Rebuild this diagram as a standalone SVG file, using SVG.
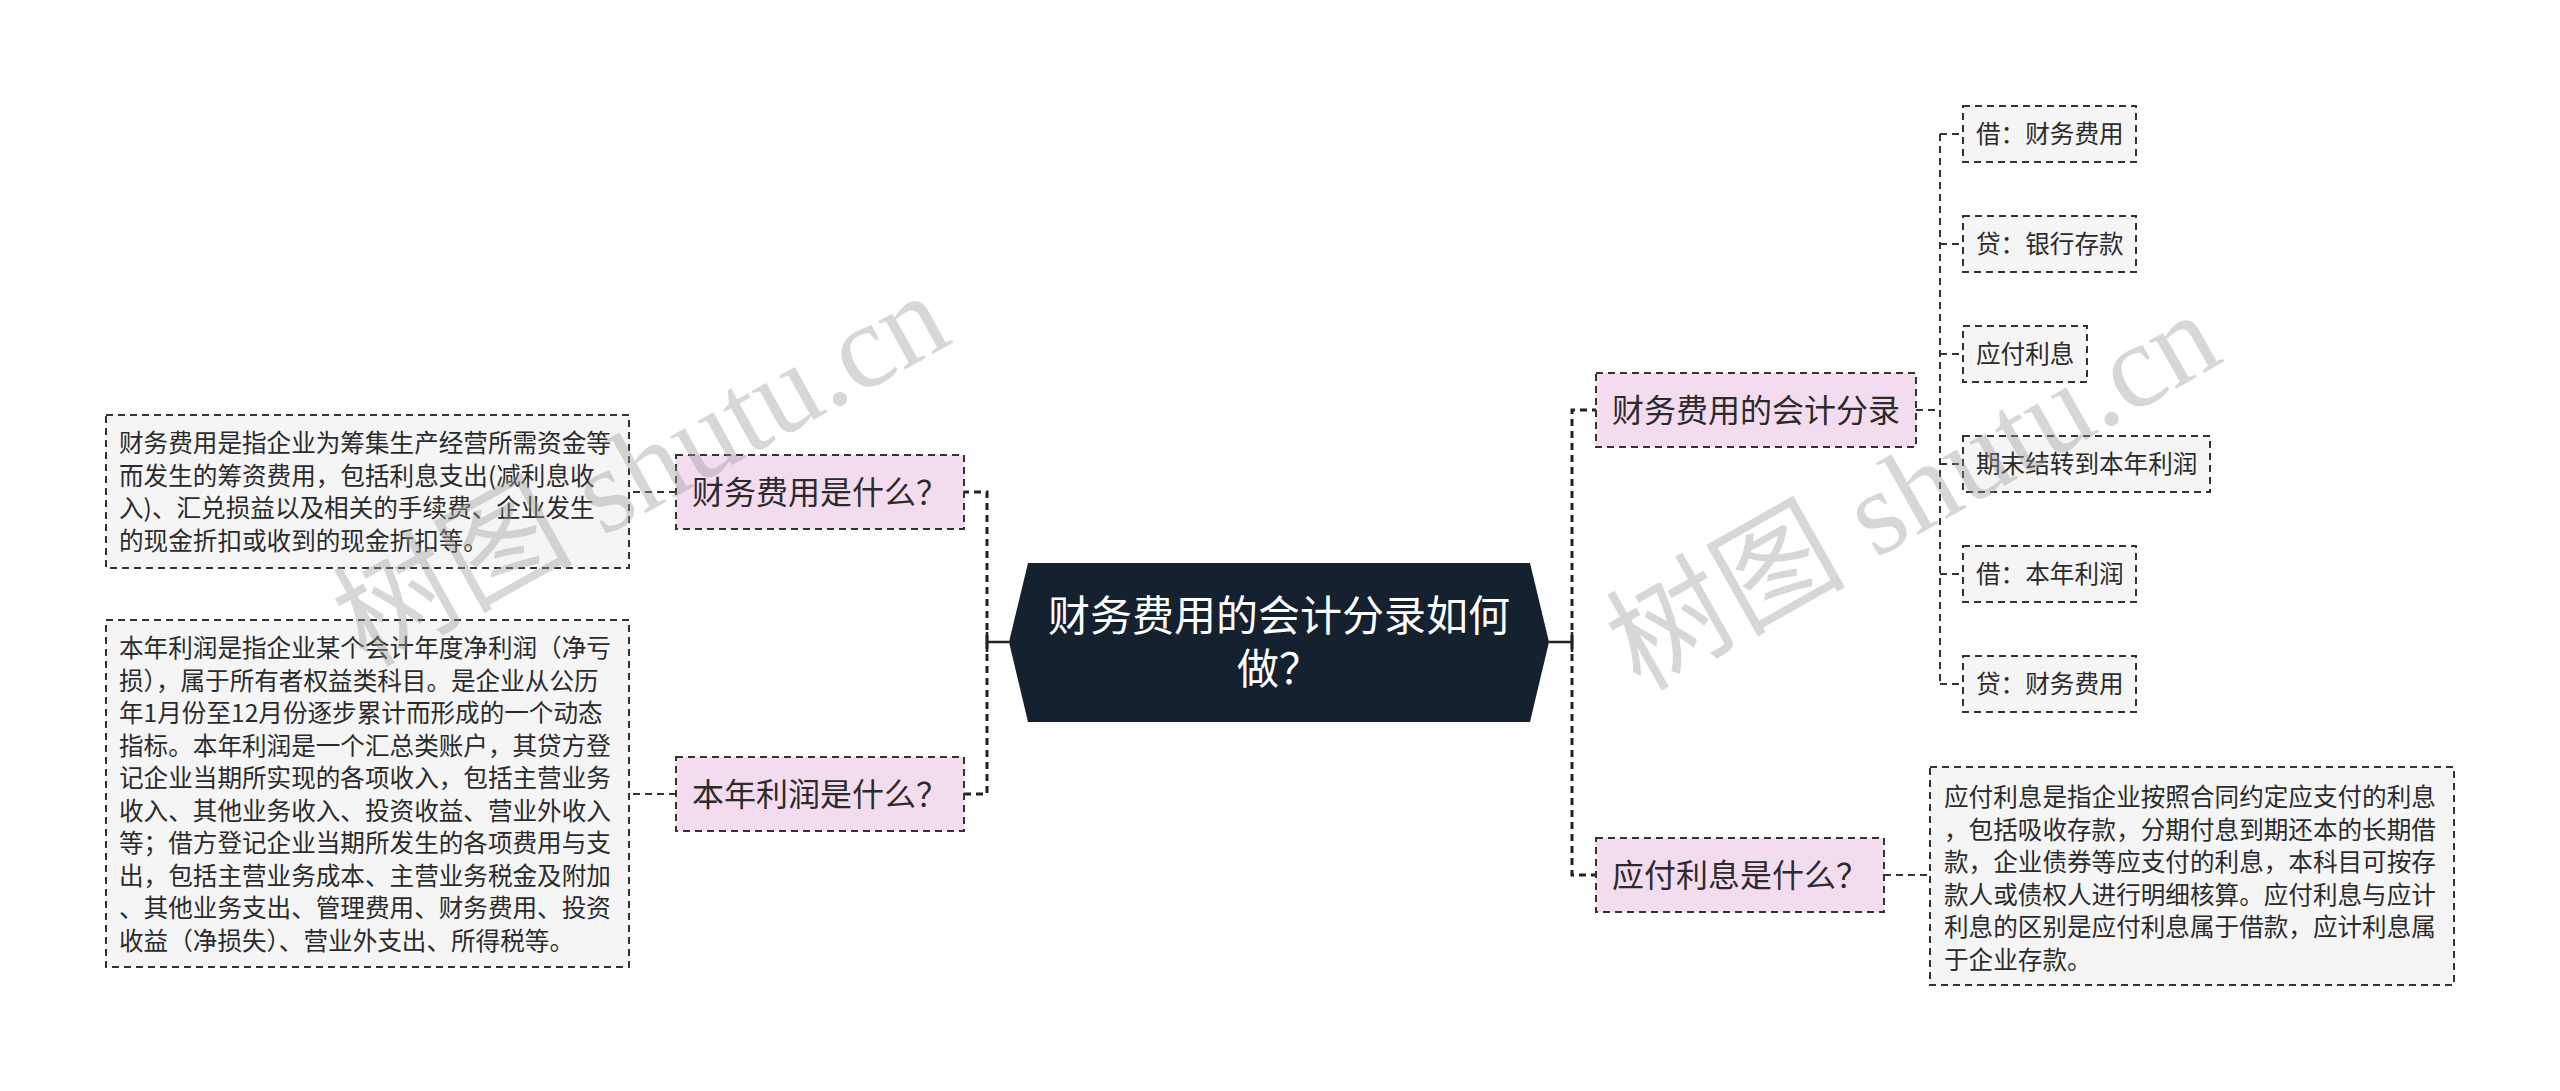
<svg xmlns="http://www.w3.org/2000/svg" width="2560" height="1091" viewBox="0 0 2560 1091">
<style>
text{font-family:'Noto Sans CJK SC','Noto Sans',sans-serif;}
.bg{fill:#ffffff;}
.l1{fill:#f4dcef;stroke:#333;stroke-width:2;stroke-dasharray:7 5;}
.l2{fill:#f5f5f5;stroke:#333;stroke-width:2;stroke-dasharray:7 5;}
.t1{font-size:32px;fill:#2b2b2b;}
.t2{font-size:24.6px;fill:#2b2b2b;}
.tc{font-size:42px;fill:#ffffff;text-anchor:middle;}
.c{fill:none;stroke:#333;stroke-width:2;stroke-dasharray:7 5;}
.cb{fill:none;stroke:#222;stroke-width:3;stroke-dasharray:7 5;}
.cs{fill:none;stroke:#222;stroke-width:2.5;}
.wm{font-family:'Liberation Serif','Noto Sans CJK SC',serif;font-size:120px;fill:#9a9a9a;fill-opacity:0.4;}
</style>
<rect class="bg" x="0" y="0" width="2560" height="1091"/>
<g id="connectors">
  <path class="cs" d="M1009 642 H987 M987 632 V652"/>
  <path class="cb" d="M987 642 V492 H964"/>
  <path class="cb" d="M987 642 V794 H964"/>
  <path class="cs" d="M1549 642 H1572 M1572 632 V652"/>
  <path class="cb" d="M1572 642 V410 H1596"/>
  <path class="cb" d="M1572 642 V875 H1596"/>
  <path class="c" d="M676 492 H629"/>
  <path class="c" d="M676 794 H629"/>
  <path class="c" d="M1884 875 H1930"/>
  <path class="c" d="M1916 410 H1940"/>
  <path class="c" d="M1940 134 V684"/>
  <path class="c" d="M1940 134 H1963"/>
  <path class="c" d="M1940 244 H1963"/>
  <path class="c" d="M1940 354 H1963"/>
  <path class="c" d="M1940 464 H1963"/>
  <path class="c" d="M1940 574 H1963"/>
  <path class="c" d="M1940 684 H1963"/>
</g>
<g id="center">
  <polygon points="1009,642 1028,563 1530,563 1549,642 1530,722 1028,722" fill="#15212f"/>
  <text class="tc" x="1279" y="631">财务费用的会计分录如何</text>
  <text class="tc" x="1279" y="684">做？</text>
</g>
<g id="n-cwfy">
  <rect class="l1" x="676" y="455" width="288" height="74"/>
  <text class="t1" x="692" y="503.5">财务费用是什么？</text>
</g>
<g id="n-bnlr">
  <rect class="l1" x="676" y="757" width="288" height="74"/>
  <text class="t1" x="692" y="805.5">本年利润是什么？</text>
</g>
<g id="n-fl">
  <rect class="l1" x="1596" y="373" width="320" height="74"/>
  <text class="t1" x="1612" y="421.5">财务费用的会计分录</text>
</g>
<g id="n-yflx">
  <rect class="l1" x="1596" y="838" width="288" height="74"/>
  <text class="t1" x="1612" y="886.5">应付利息是什么？</text>
</g>
<g id="leaf-cwfy">
  <rect class="l2" x="106" y="415" width="523" height="153"/>
  <text class="t2" x="119">
    <tspan x="119" y="452">财务费用是指企业为筹集生产经营所需资金等</tspan>
    <tspan x="119" y="484.5">而发生的筹资费用，包括利息支出(减利息收</tspan>
    <tspan x="119" y="517">入)、汇兑损益以及相关的手续费、企业发生</tspan>
    <tspan x="119" y="549.5">的现金折扣或收到的现金折扣等。</tspan>
  </text>
</g>
<g id="leaf-bnlr">
  <rect class="l2" x="106" y="620" width="523" height="347"/>
  <text class="t2" x="119">
    <tspan x="119" y="657">本年利润是指企业某个会计年度净利润（净亏</tspan>
    <tspan x="119" y="689.5">损），属于所有者权益类科目。是企业从公历</tspan>
    <tspan x="119" y="722">年1月份至12月份逐步累计而形成的一个动态</tspan>
    <tspan x="119" y="754.5">指标。本年利润是一个汇总类账户，其贷方登</tspan>
    <tspan x="119" y="787">记企业当期所实现的各项收入，包括主营业务</tspan>
    <tspan x="119" y="819.5">收入、其他业务收入、投资收益、营业外收入</tspan>
    <tspan x="119" y="852">等；借方登记企业当期所发生的各项费用与支</tspan>
    <tspan x="119" y="884.5">出，包括主营业务成本、主营业务税金及附加</tspan>
    <tspan x="119" y="917">、其他业务支出、管理费用、财务费用、投资</tspan>
    <tspan x="119" y="949.5">收益（净损失）、营业外支出、所得税等。</tspan>
  </text>
</g>
<g id="leaf-yflx">
  <rect class="l2" x="1930" y="767" width="524" height="218"/>
  <text class="t2" x="1944">
    <tspan x="1944" y="806">应付利息是指企业按照合同约定应支付的利息</tspan>
    <tspan x="1944" y="838.5">，包括吸收存款，分期付息到期还本的长期借</tspan>
    <tspan x="1944" y="871">款，企业债券等应支付的利息，本科目可按存</tspan>
    <tspan x="1944" y="903.5">款人或债权人进行明细核算。应付利息与应计</tspan>
    <tspan x="1944" y="936">利息的区别是应付利息属于借款，应计利息属</tspan>
    <tspan x="1944" y="968.5">于企业存款。</tspan>
  </text>
</g>
<g id="c1">
  <rect class="l2" x="1963" y="106" width="173" height="56"/>
  <text class="t2" x="1976" y="143">借：财务费用</text>
</g>
<g id="c2">
  <rect class="l2" x="1963" y="216" width="173" height="56"/>
  <text class="t2" x="1976" y="253">贷：银行存款</text>
</g>
<g id="c3">
  <rect class="l2" x="1963" y="326" width="124" height="56"/>
  <text class="t2" x="1976" y="363">应付利息</text>
</g>
<g id="c4">
  <rect class="l2" x="1963" y="436" width="247" height="56"/>
  <text class="t2" x="1976" y="473">期末结转到本年利润</text>
</g>
<g id="c5">
  <rect class="l2" x="1963" y="546" width="173" height="56"/>
  <text class="t2" x="1976" y="583">借：本年利润</text>
</g>
<g id="c6">
  <rect class="l2" x="1963" y="656" width="173" height="56"/>
  <text class="t2" x="1976" y="693">贷：财务费用</text>
</g>
<g id="watermarks">
  <text class="wm" transform="translate(366 668) rotate(-29)">树图 shutu.cn</text>
  <text class="wm" transform="translate(1640 692) rotate(-29.5)">树图 shutu.cn</text>
</g>
</svg>
